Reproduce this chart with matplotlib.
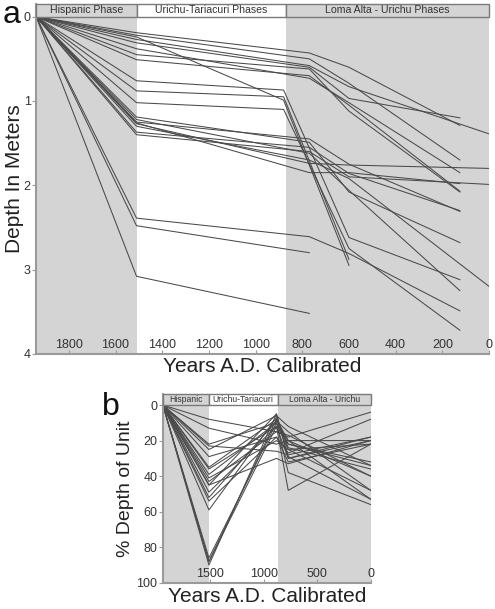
import matplotlib
matplotlib.use("Agg")
import matplotlib.pyplot as plt
from matplotlib.patches import Rectangle

plt.rcParams["font.family"] = ["Liberation Sans", "DejaVu Sans"]

# Phase boundaries (years A.D. calibrated)
START = 1940
HISP_END = 1510
URICHU_END = 870

phase_names_a = ["Hispanic Phase", "Urichu-Tariacuri Phases", "Loma Alta - Urichu Phases"]
phase_names_b = ["Hispanic", "Urichu-Tariacuri", "Loma Alta - Urichu"]

# Panel a: depth (m) of each dated level, one list per unit
a_years = [
    [1940, 1510, 770, 600, 125],
    [1940, 1510, 770, 600, 125],
    [1940, 1510, 770, 600, 0],
    [1940, 1510, 770, 600, 125],
    [1940, 1510, 880, 600],
    [1940, 1510, 770, 600, 125],
    [1940, 1510, 770, 600, 125],
    [1940, 1510, 880, 600, 125],
    [1940, 1510, 880, 600],
    [1940, 1510, 880, 600, 125],
    [1940, 1510, 770, 600, 125],
    [1940, 1510, 770, 600, 125],
    [1940, 1510, 770, 600, 125],
    [1940, 1510, 770, 600, 0],
    [1940, 1510, 770, 600, 125],
    [1940, 1510, 770, 600, 0],
    [1940, 1510, 770, 600, 125],
    [1940, 1510, 770],
    [1940, 1510, 770],
    [1940, 1510, 770, 600, 0],
    [1940, 1510, 770, 600, 125],
    [1940, 1510, 770, 600, 125],
]
a_depths = [
    [0, 0.19, 0.43, 0.60, 1.29],
    [0, 0.22, 0.50, 0.79, 1.70],
    [0, 0.27, 0.58, 0.83, 1.39],
    [0, 0.31, 0.60, 0.97, 1.20],
    [0, 0.24, 0.99, 2.95],
    [0, 0.38, 0.73, 1.02, 1.85],
    [0, 0.51, 0.70, 1.05, 2.07],
    [0, 0.76, 0.87, 2.62, 3.12],
    [0, 0.88, 0.95, 2.88],
    [0, 1.02, 1.10, 2.75, 3.72],
    [0, 1.19, 1.49, 2.08, 2.68],
    [0, 1.22, 1.62, 2.06, 3.25],
    [0, 1.26, 1.85, 1.85, 1.98],
    [0, 1.27, 1.74, 1.76, 1.80],
    [0, 1.37, 1.55, 1.86, 2.30],
    [0, 1.40, 1.60, 1.90, 1.99],
    [0, 2.39, 2.61, 2.81, 3.49],
    [0, 2.48, 2.80],
    [0, 3.08, 3.52],
    [0, 1.30, 1.70, 1.92, 3.20],
    [0, 0.45, 0.62, 1.12, 2.08],
    [0, 1.25, 1.45, 1.75, 2.31],
]

# Panel b: percent depth of unit at the same levels
b_years = [1940, 1510, 880, 770, 0]
b_pct = [
    [0, 88, 8, 20, 40],
    [0, 90, 5, 29, 53],
    [0, 86, 10, 25, 48],
    [0, 88, 12, 48, 22],
    [0, 8, 15, 18, 4],
    [0, 13, 22, 20, 20],
    [0, 22, 10, 38, 56],
    [0, 25, 6, 12, 34],
    [0, 29, 18, 27, 8],
    [0, 35, 8, 22, 32],
    [0, 36, 12, 30, 18],
    [0, 39, 10, 20, 53],
    [0, 41, 20, 25, 22],
    [0, 43, 15, 17, 40],
    [0, 45, 5, 30, 20],
    [0, 49, 12, 22, 34],
    [0, 52, 9, 15, 48],
    [0, 54, 18, 32, 22],
    [0, 59, 7, 24, 36],
    [0, 23, 26, 28, 18],
    [0, 45, 30, 33, 20],
]

a_xticks = [1800, 1600, 1400, 1200, 1000, 800, 600, 400, 200, 0]
a_yticks = [0, 1, 2, 3, 4]
b_xticks = [1500, 1000, 500, 0]
b_yticks = [0, 20, 40, 60, 80, 100]

GRAY = "#d4d4d4"
LINE = "#4a4a4a"
EDGE = "#7a7a7a"


def draw_panel(ax, years_list, vals_list, names, ybottom, ytop, xticks, yticks, box_fs):
    ax.set_xlim(START, 0)
    ax.set_ylim(ybottom, ytop)
    ax.axvspan(START, HISP_END, color=GRAY, lw=0, zorder=0)
    ax.axvspan(URICHU_END, 0, color=GRAY, lw=0, zorder=0)
    for yrs, vals in zip(years_list, vals_list):
        ax.plot(yrs, vals, color=LINE, lw=0.75, zorder=2)

    # phase name boxes along the top
    edges = [START, HISP_END, URICHU_END, 0]
    fills = [GRAY, "white", GRAY]
    for i in range(3):
        ax.add_patch(Rectangle((edges[i + 1], ytop), edges[i] - edges[i + 1], -ytop,
                               facecolor=fills[i], edgecolor=EDGE, lw=1.0,
                               zorder=3, clip_on=False))
        ax.text((edges[i] + edges[i + 1]) / 2, ytop / 2, names[i], ha="center",
                va="center", fontsize=box_fs, color="#333333", zorder=4)

    for s in ["top", "right"]:
        ax.spines[s].set_visible(False)
    for s in ["left", "bottom"]:
        ax.spines[s].set_color("#9a9a9a")
        ax.spines[s].set_linewidth(1.5)

    ax.set_xticks(xticks)
    ax.set_yticks(yticks)
    ax.tick_params(axis="x", direction="in", length=3, pad=-10.5, labelsize=9,
                   colors="#9a9a9a", labelcolor="#333333")
    ax.tick_params(axis="y", direction="out", length=3, pad=1, labelsize=9,
                   colors="#9a9a9a", labelcolor="#333333")


fig = plt.figure(figsize=(4.95, 6.09), dpi=100)

ax_a = fig.add_axes([0.073, 0.419, 0.915, 0.575])
draw_panel(ax_a, a_years, a_depths, phase_names_a, 4, -0.155,
           a_xticks, a_yticks, 7.6)
ax_a.set_xlabel("Years A.D. Calibrated", fontsize=15, color="#222222", labelpad=2)
ax_a.set_ylabel("Depth In Meters", fontsize=15, color="#222222", labelpad=0)

ax_b = fig.add_axes([0.329, 0.043, 0.42, 0.31])
draw_panel(ax_b, [b_years] * len(b_pct), b_pct, phase_names_b, 100, -6.2,
           b_xticks, b_yticks, 6.2)
ax_b.set_xlabel("Years A.D. Calibrated", fontsize=15, color="#222222", labelpad=3)
ax_b.set_ylabel("% Depth of Unit", fontsize=14, color="#222222", labelpad=2)

fig.text(0.006, 0.963, "a", fontsize=23, color="#111111")
fig.text(0.205, 0.318, "b", fontsize=23, color="#111111")

fig.savefig("out.png", dpi=100)
